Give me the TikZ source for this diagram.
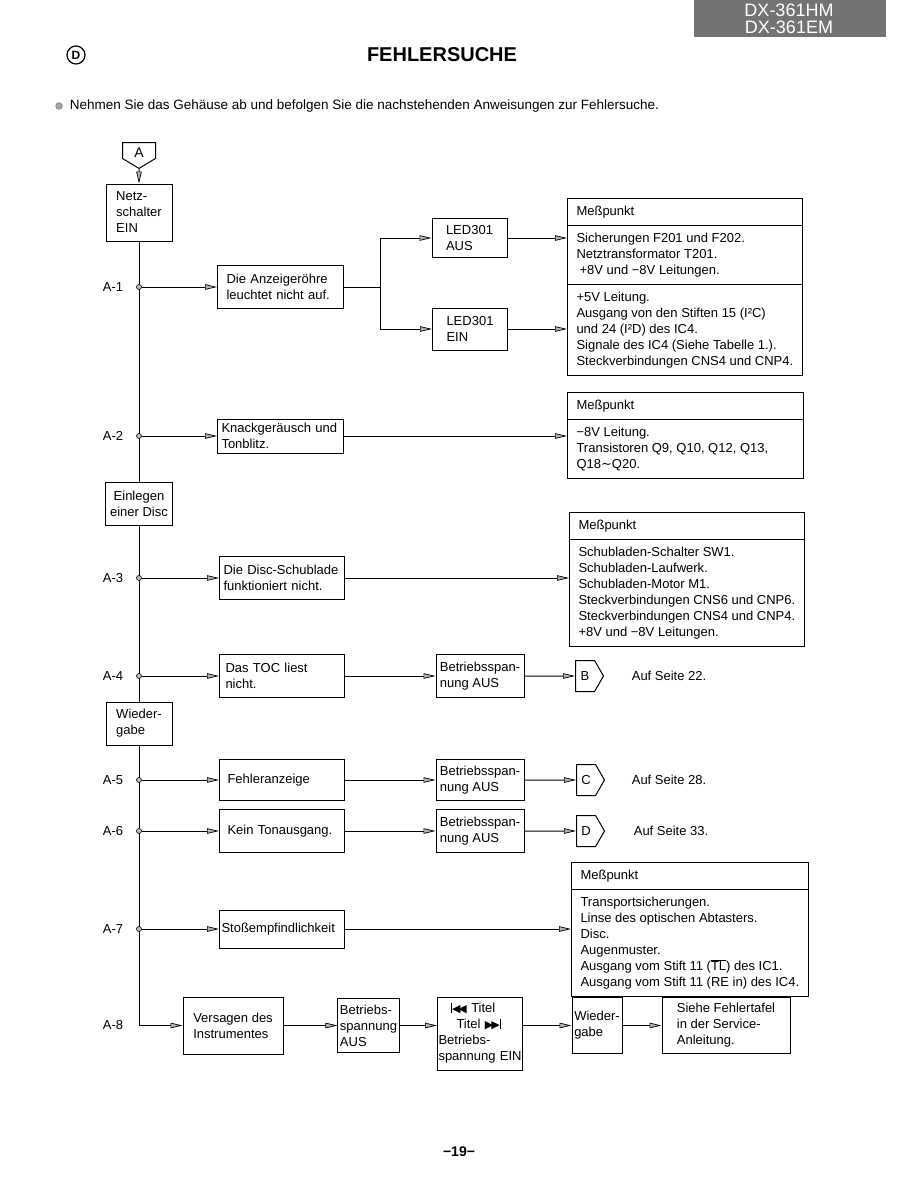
\documentclass[tikz,border=0pt]{standalone}
\usepackage{fontspec}
\setmainfont{Liberation Sans}
\newfontfamily\symb{DejaVu Sans}
\usetikzlibrary{arrows.meta,shapes.symbols,shapes.multipart}

% Tasten-Symbole
\newcommand\rueck{\rule{1.5pt}{9.5pt}{\symb\fontsize{11}{11}\selectfont ◀\kern-2pt◀}}
\newcommand\vor{{\symb\fontsize{11}{11}\selectfont ▶\kern-2pt▶}\rule{1.5pt}{9.5pt}}

\begin{document}
\begin{tikzpicture}[x=1pt, y=-1pt, line width=1pt,
    font=\fontsize{13}{16}\selectfont,
    pfeil/.style={-{Triangle[length=12pt, width=5.5pt, fill=gray!60, line width=0.7pt]}},
    kasten/.style={draw, align=left, inner sep=2pt},
    breit/.style={draw, anchor=west, align=left, inner ysep=0pt},
    mess/.style={draw, anchor=north west, rectangle split, rectangle split parts=#1,
        rectangle split part align={left}, align=left, inner xsep=9pt, inner ysep=7pt},
    punkt/.style={circle, draw, fill=gray!50, line width=0.6pt, inner sep=0pt, minimum size=5pt},
    verweis/.style={draw, shape=signal, signal to=east, signal pointer angle=120,
        inner sep=1pt, minimum width=28pt, minimum height=31pt, anchor=west}]

% Hintergrund
\fill[white] (0,0) rectangle (918,1188);
\useasboundingbox (0,0) rectangle (918,1188);

% Kopf
\node[fill=black!55, text=white, anchor=north west, minimum width=192pt, minimum height=37pt,
      inner sep=0pt, font=\fontsize{18}{18}\selectfont] (modell1) at (693,0) {};
\node[text=white, inner sep=0pt, font=\fontsize{18}{18}\selectfont] (modell2) at (789,10) {DX-361HM};
\node[text=white, inner sep=0pt, font=\fontsize{18}{18}\selectfont] (modell3) at (789,27) {DX-361EM};
\node[circle, draw, line width=1.2pt, inner sep=0pt, minimum size=18pt,
      font=\bfseries\fontsize{12}{12}\selectfont] (abschnitt) at (76,55) {D};
\node[font=\bfseries\fontsize{20}{20}\selectfont] (ueberschrift) at (442,55) {FEHLERSUCHE};
\node[circle, fill=gray!70, draw=black!60, inner sep=0pt, minimum size=6.5pt, line width=0.5pt] (kugel) at (59,106) {};
\node[anchor=west, font=\fontsize{13.5}{16}\selectfont] (hinweis) at (66,106) {Nehmen Sie das Gehäuse ab und befolgen Sie die nachstehenden Anweisungen zur Fehlersuche.};

% Hauptlinie
\node[draw, shape=signal, signal to=south, signal pointer angle=118, anchor=north,
      minimum width=33pt, minimum height=16pt, inner sep=1pt, text height=14pt, text depth=0pt,
      font=\fontsize{14}{14}\selectfont] (A) at (139,142) {A};
\node[kasten, minimum width=66pt, minimum height=57pt] (netz) at (139,212.5) {Netz-\\schalter\\EIN};
\node[kasten, align=center, minimum width=67pt, minimum height=43pt] (einl) at (139,503.5) {Einlegen\\einer Disc};
\node[kasten, minimum width=66pt, minimum height=43pt] (wied) at (139,723.5) {Wieder-\\gabe};
\draw[pfeil] (A) -- (netz);
\draw (netz) -- (einl);
\draw (einl) -- (wied);

% A-1
\node[breit, inner xsep=9pt, text width=108pt, minimum height=43pt] (anz) at (217,287) {Die Anzeigeröhre\\leuchtet nicht auf.};
\coordinate (k1) at (380,287);
\node[kasten, minimum width=75pt, minimum height=39pt] (led1) at (469.5,238) {LED301\\AUS};
\node[kasten, minimum width=75pt, minimum height=42pt] (led2) at (470,329) {LED301\\EIN};
\node[mess=3, minimum width=234pt] (m1) at (567,198) {Meßpunkt
    \nodepart{two}Sicherungen F201 und F202.\\Netztransformator T201.\\\hspace*{3pt}+8V und −8V Leitungen.
    \nodepart{three}+5V Leitung.\\Ausgang von den Stiften 15 (I²C)\\und 24 (I²D) des IC4.\\Signale des IC4 (Siehe Tabelle 1.).\\Steckverbindungen CNS4 und CNP4.};
\draw (anz) -- (k1);
\draw[pfeil] (k1) |- (led1);
\draw[pfeil] (k1) |- (led2);
\draw[pfeil] (led1) -- (led1 -| m1.west);
\draw[pfeil] (led2) -- (led2 -| m1.west);

% A-2
\node[breit, inner xsep=4pt, text width=118pt, minimum height=34pt] (knack) at (217,436) {Knackgeräusch und\\Tonblitz.};
\node[mess=2, minimum width=236pt] (m2) at (567,392) {Meßpunkt
    \nodepart{two}−8V Leitung.\\Transistoren Q9, Q10, Q12, Q13,\\Q18{\symb ∼}Q20.};
\draw[pfeil] (knack) -- (knack -| m2.west);

% A-3
\node[breit, inner xsep=4pt, text width=117pt, minimum height=43pt] (schub) at (219,578) {Die Disc-Schublade\\funktioniert nicht.};
\node[mess=2, minimum width=235pt] (m3) at (569,512) {Meßpunkt
    \nodepart{two}Schubladen-Schalter SW1.\\Schubladen-Laufwerk.\\Schubladen-Motor M1.\\Steckverbindungen CNS6 und CNP6.\\Steckverbindungen CNS4 und CNP4.\\+8V und −8V Leitungen.};
\draw[pfeil] (schub) -- (schub -| m3.west);

% A-4
\node[breit, inner xsep=6pt, text width=113pt, minimum height=43pt] (toc) at (219,676) {Das TOC liest\\nicht.};
\node[kasten, minimum width=88pt, minimum height=43pt] (betr1) at (480,676) {Betriebsspan-\\nung AUS};
\node[verweis] (B) at (575,676) {B};
\node[anchor=west] (auf1) at (628,676) {Auf Seite 22.};
\draw[pfeil] (toc) -- (betr1);
\draw[pfeil] (betr1) -- (B);

% A-5
\node[breit, inner xsep=8pt, text width=109pt, minimum height=41pt] (fehl) at (219,780) {Fehleranzeige};
\node[kasten, minimum width=88pt, minimum height=41pt] (betr2) at (480,780) {Betriebsspan-\\nung AUS};
\node[verweis] (C) at (576,780) {C};
\node[anchor=west] (auf2) at (628,780) {Auf Seite 28.};
\draw[pfeil] (fehl) -- (betr2);
\draw[pfeil] (betr2) -- (C);

% A-6
\node[breit, inner xsep=8pt, text width=109pt, minimum height=43pt] (kein) at (219,831) {Kein Tonausgang.};
\node[kasten, minimum width=88pt, minimum height=43pt] (betr3) at (480,831) {Betriebsspan-\\nung AUS};
\node[verweis] (D) at (576,831) {D};
\node[anchor=west] (auf3) at (630,831) {Auf Seite 33.};
\draw[pfeil] (kein) -- (betr3);
\draw[pfeil] (betr3) -- (D);

% A-7
\node[breit, inner xsep=2pt, text width=121pt, minimum height=38pt] (stoss) at (219,929) {Stoßempfindlichkeit};
\node[mess=2, minimum width=236pt] (m4) at (571,862) {Meßpunkt
    \nodepart{two}Transportsicherungen.\\Linse des optischen Abtasters.\\Disc.\\Augenmuster.\\Ausgang vom Stift 11 ($\overline{\mbox{TL}}$) des IC1.\\Ausgang vom Stift 11 (RE in) des IC4.};
\draw[pfeil] (stoss) -- (stoss -| m4.west);

% A-8
\node[kasten, minimum width=100pt, minimum height=57pt] (vers) at (233,1025.5) {Versagen des\\Instrumentes};
\node[kasten, minimum width=61pt, minimum height=54pt] (betr4) at (368.5,1025.5) {Betriebs-\\spannung\\AUS};
\node[breit, inner xsep=1pt, text width=83pt, minimum height=73pt] (titel) at (437,1033.5) {\hspace*{12pt}\rueck\ Titel\\\hspace*{18pt}Titel \vor\\Betriebs-\\\mbox{spannung EIN}};
\node[kasten, inner sep=1pt, minimum width=50pt, minimum height=56pt] (wied2) at (597,1025.5) {Wieder-\\gabe};
\node[kasten, minimum width=128pt, minimum height=56pt] (siehe) at (726,1025.5) {Siehe Fehlertafel\\in der Service-\\Anleitung.};
\draw[pfeil] (wied) |- (vers);
\draw[pfeil] (vers) -- (betr4);
\draw[pfeil] (betr4) -- (betr4 -| titel.west);
\draw[pfeil] (titel.east |- wied2) -- (wied2);
\draw[pfeil] (wied2) -- (siehe);

% Abzweigpunkte
\node[punkt] (p1) at (139,287) {};
\node[punkt] (p2) at (139,436) {};
\node[punkt] (p3) at (139,578) {};
\node[punkt] (p4) at (139,676) {};
\node[punkt] (p5) at (139,780) {};
\node[punkt] (p6) at (139,831) {};
\node[punkt] (p7) at (139,929) {};
\draw[pfeil] (p1) -- (anz);
\draw[pfeil] (p2) -- (knack);
\draw[pfeil] (p3) -- (schub);
\draw[pfeil] (p4) -- (toc);
\draw[pfeil] (p5) -- (fehl);
\draw[pfeil] (p6) -- (kein);
\draw[pfeil] (p7) -- (stoss);

% Marken
\node (l1) at (113,287) {A-1};
\node (l2) at (113,436) {A-2};
\node (l3) at (113,578) {A-3};
\node (l4) at (113,676) {A-4};
\node (l5) at (113,780) {A-5};
\node (l6) at (113,831) {A-6};
\node (l7) at (113,929) {A-7};
\node (l8) at (113,1025.5) {A-8};

% Seitenzahl
\node[font=\bfseries\fontsize{14}{14}\selectfont] (seitenzahl) at (459,1152) {−19−};
\end{tikzpicture}
\end{document}
